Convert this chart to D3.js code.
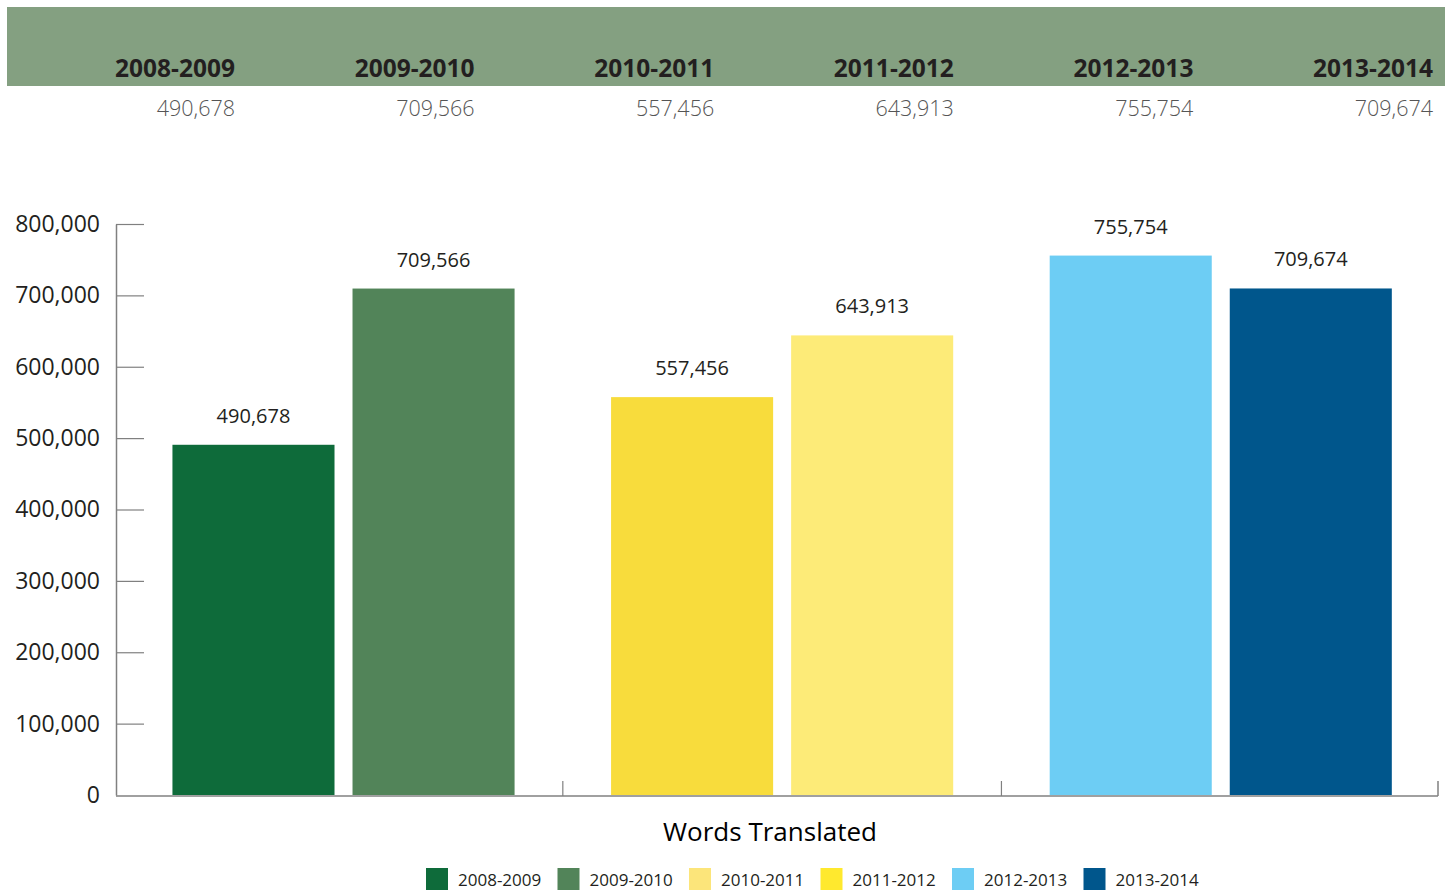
<!DOCTYPE html>
<html>
<head>
<meta charset="utf-8">
<script src="https://cdn.jsdelivr.net/npm/d3@7"></script>
<style>
    body { margin: 0; background: #fff; }
    svg text { font-family: "Open Sans", "Noto Sans", sans-serif; }
</style>
</head>
<body>
<svg id="chart" width="1450" height="890"></svg>
<script>
// Data
const years = ["2008-2009", "2009-2010", "2010-2011", "2011-2012", "2012-2013", "2013-2014"];
const words = [490678, 709566, 557456, 643913, 755754, 709674];
const groups = ["g1", "g1", "g2", "g2", "g3", "g3"];
const barColors = ["#0e6b3a", "#528459", "#f8dc3c", "#fdeb78", "#6dcdf4", "#00568c"];
const legendColors = ["#0e6b3a", "#528459", "#fce57a", "#ffe92e", "#6dcdf4", "#00568c"];
const yTicks = [0, 100000, 200000, 300000, 400000, 500000, 600000, 700000, 800000];
const axisTitle = "Words Translated";

(function drawChart() {
    const svg = d3.select("#chart");
    const fmt = d3.format(",");

    // Header band with the table of totals
    svg.append("rect")
        .attr("x", 7).attr("y", 7)
        .attr("width", 1438).attr("height", 79)
        .attr("fill", "#84a081");

    const headX = d3.scalePoint()
        .domain(years)
        .range([235, 1433]);

    svg.append("g").selectAll("text")
        .data(years)
        .enter().append("text")
        .attr("x", d => headX(d))
        .attr("y", 77)
        .attr("text-anchor", "end")
        .style("font-size", "24.5px")
        .style("font-weight", "bold")
        .attr("fill", "#231f20")
        .text(d => d);

    svg.append("g").selectAll("text")
        .data(years)
        .enter().append("text")
        .attr("x", d => headX(d))
        .attr("y", 116)
        .attr("text-anchor", "end")
        .style("font-size", "21.5px")
        .style("font-weight", "300")
        .attr("fill", "#555")
        .text((d, i) => fmt(words[i]));

    // Chart area
    const margin = { left: 116, right: 1438, top: 224, bottom: 795 };

    const y = d3.scaleLinear()
        .domain([0, 800000])
        .range([margin.bottom, margin.top]);

    // one band per pair of bars
    const x0 = d3.scaleBand()
        .domain(["g1", "g2", "g3"])
        .range([margin.left, margin.right])
        .paddingInner(0.22)
        .paddingOuter(0.117)
        .align(0.55);

    const x1 = d3.scaleBand()
        .domain([0, 1])
        .range([0, x0.bandwidth()])
        .paddingInner(0.1)
        .paddingOuter(0);

    const gap = x0.step() - x0.bandwidth();

    // Y axis
    const yAxis = svg.append("g")
        .attr("transform", `translate(${margin.left},0)`)
        .call(d3.axisLeft(y).tickValues(yTicks).tickSize(0).tickFormat(fmt).tickPadding(16));
    yAxis.select(".domain").attr("stroke", "#808080").attr("stroke-width", 1.5);
    yAxis.selectAll("text")
        .style("font-size", "23px")
        .attr("fill", "#231f20");
    yAxis.selectAll(".tick line")
        .attr("x2", 28)
        .attr("stroke", "#808080")
        .attr("stroke-width", 1.2);
    yAxis.selectAll(".tick").filter(d => d === 0).select("line").remove();

    // Bars
    svg.append("g").selectAll("rect")
        .data(words)
        .enter().append("rect")
        .attr("x", (d, i) => x0(groups[i]) + x1(i % 2))
        .attr("y", d => y(d))
        .attr("width", x1.bandwidth())
        .attr("height", d => y(0) - y(d))
        .attr("fill", (d, i) => barColors[i]);

    // Value labels above bars
    svg.append("g").selectAll("text")
        .data(words)
        .enter().append("text")
        .attr("x", (d, i) => x0(groups[i]) + x1(i % 2) + x1.bandwidth() / 2)
        .attr("y", d => y(d) - 22)
        .attr("text-anchor", "middle")
        .style("font-size", "20px")
        .attr("fill", "#231f20")
        .text(d => fmt(d));

    // X axis with group separators
    const xAxis = svg.append("g");
    xAxis.append("line")
        .attr("x1", margin.left).attr("x2", margin.right)
        .attr("y1", margin.bottom + 1).attr("y2", margin.bottom + 1)
        .attr("stroke", "#808080")
        .attr("stroke-width", 1.5);
    xAxis.selectAll(".sep")
        .data(["g2", "g3"])
        .enter().append("line")
        .attr("class", "sep")
        .attr("x1", d => x0(d) - gap / 2).attr("x2", d => x0(d) - gap / 2)
        .attr("y1", margin.bottom - 14).attr("y2", margin.bottom + 1)
        .attr("stroke", "#808080")
        .attr("stroke-width", 1.2);
    xAxis.append("line")
        .attr("x1", margin.right).attr("x2", margin.right)
        .attr("y1", margin.bottom - 14).attr("y2", margin.bottom + 1)
        .attr("stroke", "#808080")
        .attr("stroke-width", 1.5);

    // Axis title
    svg.append("text")
        .attr("x", 770)
        .attr("y", 841)
        .attr("text-anchor", "middle")
        .style("font-size", "26px")
        .attr("fill", "#000")
        .text(axisTitle);

    // Legend
    const legend = svg.append("g")
        .attr("transform", "translate(426,868)");

    years.forEach((yr, i) => {
        const row = legend.append("g")
            .attr("transform", `translate(${i * 131.5},0)`);
        row.append("rect")
            .attr("width", 22)
            .attr("height", 22)
            .attr("fill", legendColors[i]);
        row.append("text")
            .attr("x", 32)
            .attr("y", 18)
            .style("font-size", "17px")
            .attr("fill", "#231f20")
            .text(yr);
    });
})();
</script>
</body>
</html>
